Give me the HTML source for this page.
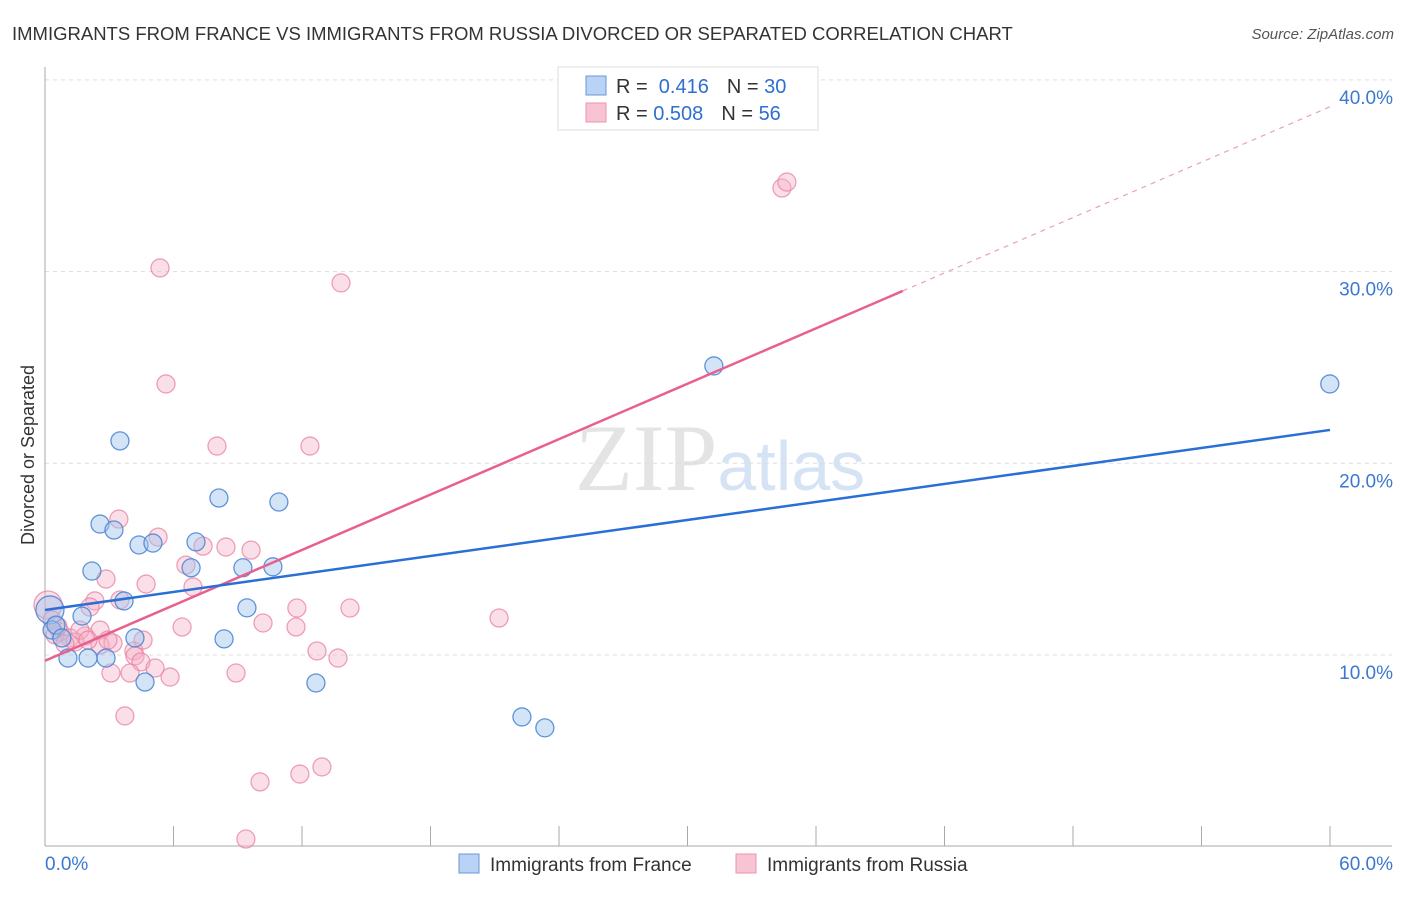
<!DOCTYPE html>
<html><head><meta charset="utf-8"><style>
body{margin:0;background:#fff;font-family:"Liberation Sans",sans-serif}
</style></head><body>
<svg id="chart" width="1406" height="892" xmlns="http://www.w3.org/2000/svg" font-family="Liberation Sans, sans-serif">
<text x="12" y="40" font-size="18.5" fill="#333">IMMIGRANTS FROM FRANCE VS IMMIGRANTS FROM RUSSIA DIVORCED OR SEPARATED CORRELATION CHART</text>
<text x="1394" y="39" font-size="15" fill="#555" text-anchor="end" font-style="italic">Source: ZipAtlas.com</text>
<text x="720" y="490" font-size="95" fill="#e4e4e4" text-anchor="middle" font-family="Liberation Serif, serif">ZIP<tspan fill="#d5e3f5" font-family="Liberation Sans, sans-serif" font-size="70">atlas</tspan></text>
<g id="grid"></g><g id="axes"></g><g id="marks"></g>
<text transform="translate(34,455) rotate(-90)" font-size="18" fill="#333" text-anchor="middle">Divorced or Separated</text>
<g>
<rect x="558" y="67" width="260" height="63" fill="#fff" stroke="#ddd"/>
<rect x="586" y="76" width="20" height="19" fill="#b8d3f5" stroke="#6a9ad8"/>
<rect x="586" y="103" width="20" height="19" fill="#f8c4d3" stroke="#eb94ae"/>
<text x="616" y="93" font-size="20" fill="#333">R = <tspan fill="#2f6fd0">&#160;0.416</tspan><tspan dx="18">N = </tspan><tspan fill="#2f6fd0">30</tspan></text>
<text x="616" y="120" font-size="20" fill="#333">R = <tspan fill="#2f6fd0">0.508</tspan><tspan dx="18">N = </tspan><tspan fill="#2f6fd0">56</tspan></text>
</g>
<g>
<rect x="459" y="854" width="20" height="19" fill="#b8d3f5" stroke="#6a9ad8"/>
<text x="490" y="871" font-size="19" fill="#333">Immigrants from France</text>
<rect x="736" y="854" width="20" height="19" fill="#f8c4d3" stroke="#eb94ae"/>
<text x="767" y="871" font-size="19" fill="#333">Immigrants from Russia</text>
</g>
</svg>
<script>
const franceX=[3.50,2.57,3.22,4.39,5.04,2.19,3.69,1.73,1.07,2.01,2.85,4.20,4.67,8.12,10.92,7.05,6.82,9.24,10.64,9.43,8.36,12.65,31.23,22.27,23.34,59.99,0.23,0.33,0.51,0.79];
const franceY=[21.17,16.83,16.52,15.74,15.84,14.38,12.82,12.03,9.84,9.84,9.84,10.89,8.59,18.19,17.98,15.90,14.55,14.55,14.60,12.46,10.84,8.54,25.08,6.77,6.20,24.14,12.35,11.30,11.56,10.89];
const russiaX=[5.37,13.82,34.41,34.64,5.65,8.03,12.37,3.45,5.28,7.38,8.45,9.62,6.58,2.85,4.72,6.91,2.33,3.50,2.10,11.76,14.24,21.20,6.40,10.18,11.72,2.57,0.70,1.17,1.87,2.57,3.17,4.15,4.58,12.70,13.68,4.20,4.48,5.14,3.08,3.97,5.84,8.92,3.73,10.04,11.90,12.93,9.38,0.14,0.47,1.40,0.93,1.63,2.01,0.33,2.94,0.60];
const russiaY=[30.19,29.41,34.36,34.67,24.14,20.90,20.90,17.09,16.15,15.68,15.63,15.47,14.69,13.96,13.70,13.55,12.82,12.87,12.50,12.45,12.45,11.93,11.46,11.67,11.46,11.30,11.20,10.89,10.99,10.52,10.62,10.21,10.78,10.21,9.84,9.95,9.64,9.32,9.06,9.06,8.85,9.06,6.82,3.38,3.79,4.16,0.40,12.61,11.05,10.68,10.58,11.30,10.78,11.83,10.78,11.5];
const franceTrend=[12.35,21.74];
const russiaTrend=[9.7,38.6];
const russiaSolidEnd=40.05;
const yTicks=[10,20,30,40];
const xTickLabels=["0.0%","60.0%"];
const NS="http://www.w3.org/2000/svg";
const X=v=>45+v*1285/60, Y=v=>846.7-v*19.17;
function mk(parent,tag,attrs){const e=document.createElementNS(NS,tag);for(const k in attrs)e.setAttribute(k,attrs[k]);document.getElementById(parent).appendChild(e);return e;}
yTicks.forEach(t=>{
 const g=mk('grid','line',{x1:45,x2:1392,y1:Y(t),y2:Y(t),stroke:'#ddd','stroke-dasharray':'4,4'});
 
 
 const l=mk('axes','text',{x:1393,y:Y(t)+24,'font-size':19,fill:'#3b78d0','text-anchor':'end'});l.textContent=t.toFixed(1)+'%';
 
 
});
const ax=mk('axes','line',{x1:45,x2:45,y1:67,y2:846,stroke:'#aaa'});


const bx=mk('axes','line',{x1:45,x2:1392,y1:846,y2:846,stroke:'#aaa'});


for(let i=0;i<=10;i++){const t=mk('axes','line',{x1:X(i*6),x2:X(i*6),y1:826,y2:846,stroke:'#aaa'});
 
 }
const xl0=mk('axes','text',{x:45,y:870,'font-size':19,fill:'#3b78d0'});xl0.textContent=xTickLabels[0];


const xl1=mk('axes','text',{x:1393,y:870,'font-size':19,fill:'#3b78d0','text-anchor':'end'});xl1.textContent=xTickLabels[1];


function dots(xs,ys,fill,stroke,name){xs.forEach((x,i)=>{const big=x<0.3;const c=mk('marks','circle',{cx:X(x),cy:Y(ys[i]),r:big?14:9,fill:fill,stroke:stroke,'stroke-width':1.3});
 
 });}
dots(russiaX,russiaY,'rgba(245,175,198,0.4)','rgba(232,130,162,0.75)','russia-point');
dots(franceX,franceY,'rgba(160,195,238,0.45)','rgba(70,130,210,0.85)','france-point');
const rs=russiaTrend[0]+(russiaTrend[1]-russiaTrend[0])*russiaSolidEnd/60;
const l1=mk('marks','line',{x1:X(0),y1:Y(russiaTrend[0]),x2:X(russiaSolidEnd),y2:Y(rs),stroke:'#e8608e','stroke-width':2.5});


const l2=mk('marks','line',{x1:X(russiaSolidEnd),y1:Y(rs),x2:X(60),y2:Y(russiaTrend[1]),stroke:'#eaa0b8','stroke-width':1.2,'stroke-dasharray':'5,5'});


const l3=mk('marks','line',{x1:X(0),y1:Y(franceTrend[0]),x2:X(60),y2:Y(franceTrend[1]),stroke:'#2a6fd6','stroke-width':2.5});


</script>
</body></html>
